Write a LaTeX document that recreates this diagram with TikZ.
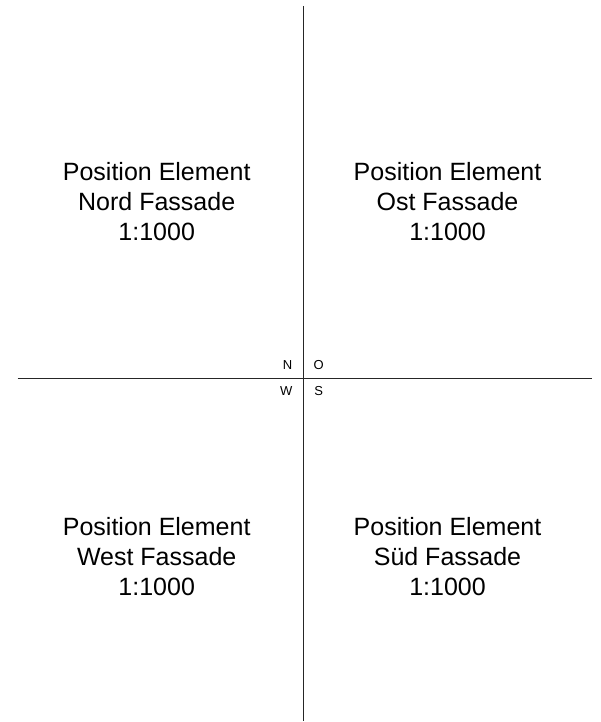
\documentclass[tikz,border=0pt]{standalone}
\usepackage{fontspec}
\setmainfont{Liberation Sans}
\begin{document}
\begin{tikzpicture}[x=1pt,y=-1pt,
  axisline/.style={draw=black!85,line width=1.2pt},
  label/.style={font=\fontsize{25}{30}\selectfont,align=center,inner sep=0pt,anchor=center},
  dir/.style={font=\fontsize{13}{15}\selectfont,inner sep=0pt,anchor=base}]
\useasboundingbox (0,0) rectangle (601,722);
\coordinate (top) at (303.3,6);
\coordinate (bottom) at (303.3,720.5);
\coordinate (left) at (17.5,378.3);
\coordinate (right) at (592,378.3);
\draw[axisline] (top) -- (bottom);
\draw[axisline] (left) -- (right);
\node[label] (nord) at (156.7,202) {Position Element\\Nord Fassade\\1:1000};
\node[label] (ost) at (447.5,202) {Position Element\\Ost Fassade\\1:1000};
\node[label] (west) at (156.7,557) {Position Element\\West Fassade\\1:1000};
\node[label] (sued) at (447.5,557) {Position Element\\Süd Fassade\\1:1000};
\node[dir] (n) at (287.5,369.3) {N};
\node[dir] (o) at (318.7,369.3) {O};
\node[dir] (w) at (286.3,395) {W};
\node[dir] (s) at (318.7,395) {S};
\end{tikzpicture}
\end{document}
